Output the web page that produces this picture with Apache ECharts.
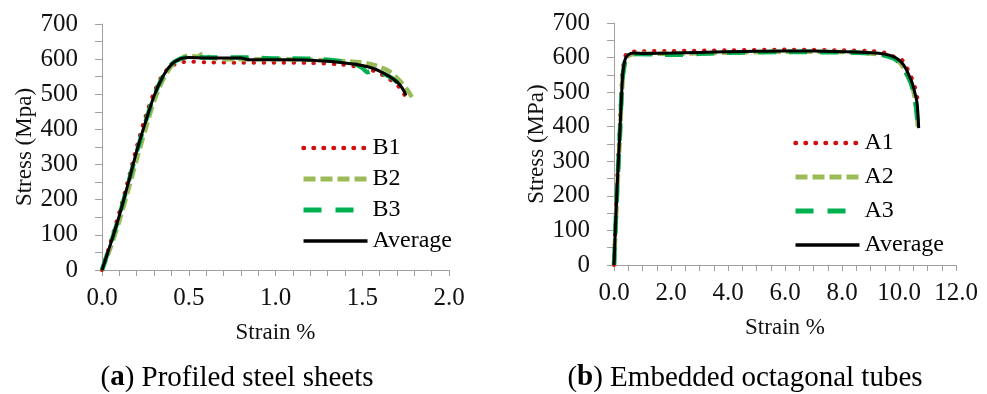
<!DOCTYPE html>
<html>
<head>
<meta charset="utf-8">
<script src="https://cdn.jsdelivr.net/npm/echarts@6/dist/echarts.min.js"></script>
<style>
  html, body { margin: 0; padding: 0; background: #fff; }
  #chart { width: 987px; height: 394px; }
</style>
</head>
<body>
<div id="chart"></div>
<script>
var myChart = echarts.init(document.getElementById("chart"));

// (a) profiled steel sheets
const b1Strain = [0, 0.05, 0.1, 0.15, 0.2, 0.25, 0.3, 0.35, 0.4, 0.45, 0.5, 0.6, 0.8, 1.0, 1.2, 1.37, 1.45, 1.52, 1.58, 1.65, 1.72, 1.747];
const b1Stress = [0, 80, 165, 255, 350, 435, 505, 555, 580, 590, 593, 591, 590, 590, 589, 585, 580, 573, 564, 545, 517, 495];

const b2Strain = [0, 0.05, 0.1, 0.15, 0.2, 0.25, 0.3, 0.35, 0.4, 0.45, 0.5, 0.55, 0.58, 0.62, 0.7, 0.8, 1.0, 1.2, 1.4, 1.53, 1.6, 1.66, 1.73, 1.77, 1.795];
const b2Stress = [0, 65, 140, 225, 315, 400, 480, 540, 580, 600, 610, 607, 615, 605, 600, 600, 600, 598, 594, 588, 578, 564, 531, 505, 484];

const b3Strain = [0, 0.05, 0.1, 0.15, 0.2, 0.25, 0.3, 0.35, 0.4, 0.45, 0.5, 0.6, 0.8, 1.0, 1.2, 1.3, 1.4, 1.46, 1.5, 1.53, 1.56, 1.6, 1.65, 1.7, 1.72];
const b3Stress = [0, 75, 155, 245, 335, 420, 495, 550, 585, 601, 606, 605, 605, 602, 601, 598, 592, 585, 575, 563, 566, 562, 552, 535, 520];

const bAvgStrain = [0, 0.05, 0.1, 0.15, 0.2, 0.25, 0.3, 0.35, 0.4, 0.45, 0.5, 0.6, 0.7, 0.8, 0.85, 0.9, 1.0, 1.1, 1.2, 1.3, 1.4, 1.5, 1.56, 1.6, 1.66, 1.7, 1.72, 1.745, 1.75];
const bAvgStress = [0, 75, 155, 245, 338, 420, 495, 550, 585, 601, 605, 603, 603, 603, 598, 598, 598, 598, 597, 594, 589, 582, 574, 566, 550, 535, 525, 505, 497];

// (b) embedded octagonal tubes
const a1Strain = [0, 0.1, 0.2, 0.3, 0.4, 0.5, 0.8, 2, 4, 6, 8, 9, 9.5, 9.9, 10.1, 10.28, 10.39, 10.52, 10.6, 10.69];
const a1Stress = [0, 230, 400, 560, 605, 615, 618, 619, 621, 623, 621, 619, 614, 600, 594, 570, 551, 526, 500, 462];

const a2Strain = [0, 0.1, 0.2, 0.3, 0.4, 0.5, 0.8, 2, 4, 6, 8, 9, 9.5, 9.8, 10.0, 10.2, 10.4, 10.5, 10.6, 10.66];
const a2Stress = [0, 190, 360, 530, 590, 605, 611, 611, 614, 617, 616, 612, 607, 599, 588, 565, 533, 505, 460, 400];

const a3Strain = [0, 0.1, 0.2, 0.3, 0.4, 0.5, 0.8, 1.5, 2.2, 3, 4, 6, 8, 9, 9.5, 9.8, 10.0, 10.2, 10.4, 10.5, 10.6, 10.66];
const a3Stress = [0, 200, 370, 540, 595, 606, 610, 609, 608, 611, 614, 616, 615, 612, 606, 598, 586, 562, 530, 502, 455, 398];

const aAvgStrain = [0, 0.1, 0.2, 0.3, 0.35, 0.4, 0.5, 0.7, 1, 2, 3, 4, 5, 6, 7, 8, 9, 9.5, 9.8, 10.0, 10.16, 10.3, 10.45, 10.55, 10.63, 10.67, 10.69];
const aAvgStress = [0, 210, 375, 545, 580, 597, 608, 613, 612, 613, 615, 617, 618, 619, 619, 617, 614, 610, 603, 593, 579, 558, 529, 500, 471, 430, 396];

function pairs(xs, ys) {
  return xs.map(function (x, i) { return [x, ys[i]]; });
}

const FONT = "Liberation Serif";
const TXT = "#111";
const AXIS = "#a0a0a0";

function xAxisOf(grid, max, step, minor) {
  return {
    type: "value", gridIndex: grid, min: 0, max: max, interval: step,
    name: "Strain %", nameLocation: "middle", nameGap: 51,
    nameTextStyle: { fontFamily: FONT, fontSize: 23, color: TXT },
    axisLine: { lineStyle: { color: AXIS, width: 1 } },
    axisTick: { length: 6, lineStyle: { color: AXIS } },
    minorTick: { show: true, splitNumber: minor, length: 6, lineStyle: { color: AXIS } },
    splitLine: { show: false },
    axisLabel: { margin: 16, fontFamily: FONT, fontSize: 25, color: TXT,
      formatter: function (v) { return v.toFixed(1); } }
  };
}

function yAxisOf(grid, title) {
  return {
    type: "value", gridIndex: grid, min: 0, max: 700, interval: 100,
    name: title, nameLocation: "middle", nameGap: 66, nameRotate: 90,
    nameTextStyle: { fontFamily: FONT, fontSize: 23, color: TXT },
    axisLine: { show: true, lineStyle: { color: AXIS, width: 1 } },
    axisTick: { show: true, length: 7, lineStyle: { color: AXIS } },
    minorTick: { show: true, splitNumber: 2, length: 7, lineStyle: { color: AXIS } },
    splitLine: { show: false },
    axisLabel: { margin: 24, fontFamily: FONT, fontSize: 25, color: TXT }
  };
}

const dotted = { color: "#d01010", width: 4, type: [0.5, 9.5], cap: "round" };
const shortDash = { color: "#9bbb59", width: 4.5, type: [11, 5] };
const longDash = { color: "#00b050", width: 4.5, type: [18, 13] };
const solid = { color: "#000", width: 3 };

function line(name, grid, data, style) {
  return {
    name: name, type: "line", xAxisIndex: grid, yAxisIndex: grid,
    data: data, symbol: "none", showSymbol: false, smooth: 0.3,
    lineStyle: style, itemStyle: { color: style.color }
  };
}

function legendItem(name, style, w) {
  return {
    name: name,
    lineStyle: { color: style.color, width: w, type: style.type, cap: style.cap || "butt" }
  };
}

function legendOf(left, top, gap, names) {
  return {
    orient: "vertical", left: left, top: top, itemWidth: 64, itemHeight: 12,
    itemGap: gap,
    data: [
      legendItem(names[0], dotted, 4.5),
      legendItem(names[1], { color: "#9bbb59", type: [12, 5] }, 5),
      legendItem(names[2], { color: "#00b050", type: [18, 14] }, 5),
      legendItem(names[3], solid, 3.5)
    ],
    itemStyle: { opacity: 0, borderWidth: 0 },
    textStyle: { fontFamily: FONT, fontSize: 24, color: "#000", lineHeight: 24 }
  };
}

const option = {
  animation: false,
  grid: [
    { left: 102, top: 24, width: 347, height: 246 },
    { left: 614, top: 23, width: 342, height: 242 }
  ],
  xAxis: [xAxisOf(0, 2, 0.5, 5), xAxisOf(1, 12, 2, 4)],
  yAxis: [yAxisOf(0, "Stress (Mpa)"), yAxisOf(1, "Stress (MPa)")],
  legend: [
    legendOf(296, 131, 7, ["B1", "B2", "B3", "Average"]),
    legendOf(788, 126, 10, ["A1", "A2", "A3", "Average"])
  ],
  series: [
    line("B1", 0, pairs(b1Strain, b1Stress), dotted),
    line("B2", 0, pairs(b2Strain, b2Stress), shortDash),
    line("B3", 0, pairs(b3Strain, b3Stress), longDash),
    line("Average", 0, pairs(bAvgStrain, bAvgStress), solid),
    line("A1", 1, pairs(a1Strain, a1Stress), dotted),
    line("A2", 1, pairs(a2Strain, a2Stress), shortDash),
    line("A3", 1, pairs(a3Strain, a3Stress), longDash),
    line("Average", 1, pairs(aAvgStrain, aAvgStress), solid)
  ],
  graphic: [
    {
      type: "text", x: 237, y: 378,
      style: {
        text: "({b|a}) Profiled steel sheets",
        align: "center", verticalAlign: "middle",
        fontFamily: FONT, fontSize: 29, fill: "#000",
        rich: { b: { fontFamily: FONT, fontSize: 29, fontWeight: "bold" } }
      }
    },
    {
      type: "text", x: 745, y: 378,
      style: {
        text: "({b|b}) Embedded octagonal tubes",
        align: "center", verticalAlign: "middle",
        fontFamily: FONT, fontSize: 29, fill: "#000",
        rich: { b: { fontFamily: FONT, fontSize: 29, fontWeight: "bold" } }
      }
    }
  ]
};

myChart.setOption(option);
</script>
</body>
</html>
